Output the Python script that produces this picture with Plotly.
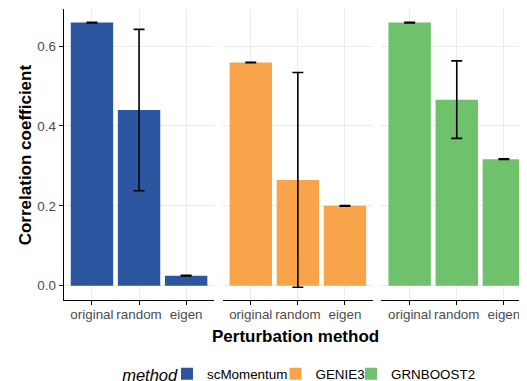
import plotly.graph_objects as go

methods = ["scMomentum", "GENIE3", "GRNBOOST2"]
perturbations = ["original", "random", "eigen"]
scmomentum_vals = [0.659, 0.440, 0.025]
scmomentum_err = [0.0008, 0.202, 0.0008]
genie3_vals = [0.559, 0.265, 0.200]
genie3_err = [0.0008, 0.269, 0.0008]
grnboost2_vals = [0.659, 0.466, 0.317]
grnboost2_err = [0.0008, 0.097, 0.0008]
colors = ["#2D56A1", "#F9A44B", "#70C16C"]
y_ticks = [0.0, 0.2, 0.4, 0.6]

# page body has an 8px default margin; the figure is sized to fill the rest
OFF = 8
W, H = 527 - OFF, 381 - OFF
FONT = "Liberation Sans, Arial, sans-serif"

values = [scmomentum_vals, genie3_vals, grnboost2_vals]
errors = [scmomentum_err, genie3_err, grnboost2_err]
legend_widths = [63.5, 30.5, 95]


def px(xw):
    return (xw - OFF) / W


def py(yw):
    return (H - (yw - OFF)) / H


fig = go.Figure()
for i, (m, v, e, c) in enumerate(zip(methods, values, errors, colors)):
    sfx = "" if i == 0 else str(i + 1)
    fig.add_trace(go.Bar(
        x=perturbations, y=v, name=m, marker=dict(color=c, line=dict(width=0)),
        error_y=dict(type="data", array=e, color="black", thickness=1.6, width=5.5),
        xaxis="x" + sfx, yaxis="y" + sfx, hoverinfo="skip",
        legendwidth=legend_widths[i],
    ))

# window-pixel geometry of panels
px_unit = 47.1
panels = [(63.7, 213.5), (222.5, 373.0), (381.4, 527.0)]
ytop, ybot = 9.0, 300.0
yrange = [-0.0358, 0.693]

layout = dict(
    width=W, height=H, margin=dict(l=0, r=0, t=0, b=0, autoexpand=False),
    paper_bgcolor="white", plot_bgcolor="white",
    bargap=0.1, showlegend=True,
    font=dict(family=FONT, size=13.4, color="#4D4D4D"),
)
for i, (x0, x1) in enumerate(panels):
    sfx = "" if i == 0 else str(i + 1)
    rng_end = -0.6 + (x1 - x0) / px_unit
    layout["xaxis" + sfx] = dict(
        domain=[px(x0), px(x1)], anchor="y" + sfx, range=[-0.6, rng_end],
        type="category", categoryorder="array", categoryarray=perturbations,
        showline=True, linecolor="black", linewidth=1.1,
        ticks="outside", ticklen=4, tickcolor="black", tickwidth=1.1,
        showgrid=True, gridcolor="#EBEBEB", gridwidth=1, tickangle=0,
        ticklabelstandoff=-2,
        tickfont=dict(size=13.4, color="#4D4D4D"), zeroline=False, fixedrange=True,
        automargin=False,
    )
    layout["yaxis" + sfx] = dict(
        domain=[py(ybot), py(ytop)], anchor="x" + sfx, range=yrange,
        tickvals=y_ticks, tickformat=".1f",
        showgrid=True, gridcolor="#EBEBEB", gridwidth=1, zeroline=False,
        showline=(i == 0), linecolor="black", linewidth=1.1,
        ticks="outside" if i == 0 else "", ticklen=4, tickcolor="black", tickwidth=1.1,
        showticklabels=(i == 0), tickfont=dict(size=13.4, color="#4D4D4D"),
        fixedrange=True, automargin=False,
    )

layout["legend"] = dict(
    orientation="h", x=px(167), xanchor="left", y=py(374), yanchor="middle",
    font=dict(size=13.4, color="black"), tracegroupgap=0,
    bgcolor="rgba(0,0,0,0)",
)
layout["annotations"] = [
    dict(text="<b>Correlation coefficient</b>", x=px(25.8), y=py(154.5),
         xref="paper", yref="paper", textangle=-90, showarrow=False,
         font=dict(size=17, color="black", family=FONT), xanchor="center", yanchor="middle"),
    dict(text="<b>Perturbation method</b>", x=px(296), y=py(336.7),
         xref="paper", yref="paper", showarrow=False,
         font=dict(size=17, color="black", family=FONT), xanchor="center", yanchor="middle"),
    dict(text="<i>method</i>", x=px(180), y=py(374.5), width=66, align="right",
         xref="paper", yref="paper", showarrow=False,
         font=dict(size=16.5, color="black", family=FONT), xanchor="right", yanchor="middle"),
]
fig.update_layout(**layout)
fig.write_html("out.html")
